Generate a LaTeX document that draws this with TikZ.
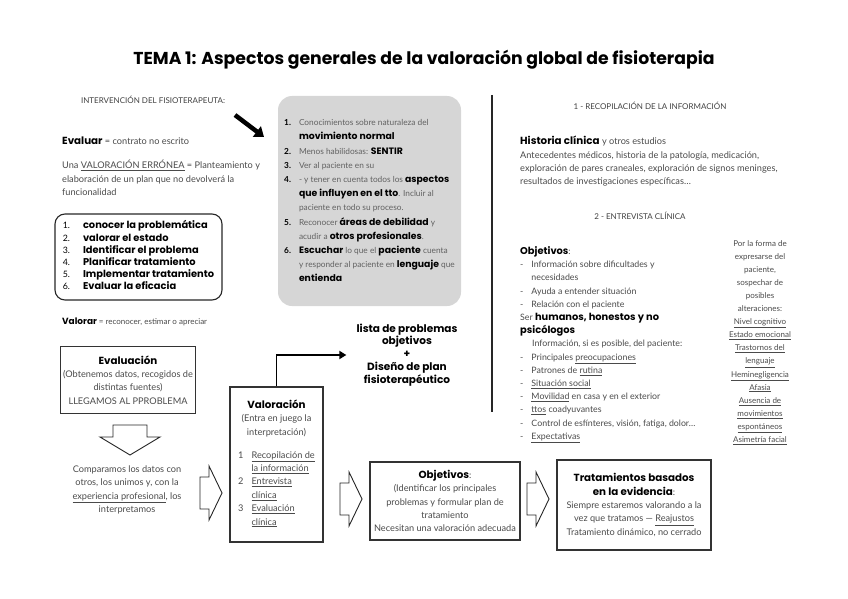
\documentclass[tikz,border=0pt]{standalone}
\usepackage{fontspec}
\setmainfont{Lato}
\newfontfamily\kwfont{Poppins}[Scale=1.12]
\usetikzlibrary{arrows.meta}
\definecolor{Texto}{HTML}{4A4A4A}
\definecolor{Gris}{HTML}{D6D6D6}
\newcommand\kw[1]{{\kwfont\bfseries\color{black}#1}}
\newcommand\cuerpo{\fontsize{9.2}{13.4}\selectfont\color{Texto}}
\newcommand\titulillo{\fontsize{8}{10}\selectfont\color{black!75}}

\begin{document}
\begin{tikzpicture}[x=1pt, y=-1pt,
    texto/.style={inner sep=0pt, font=\cuerpo},
    caja/.style={draw=black!80, line width=1.1pt, inner sep=2pt, font=\cuerpo, align=center},
    hueca/.style={draw=black!85, line width=0.9pt, fill=white, line join=miter}]

    \useasboundingbox (0,0) rectangle (848,599);

    \node[inner sep=0pt, font=\kwfont\bfseries\fontsize{15.4}{18}\selectfont] (titulo) at (424,60)
        {TEMA 1: Aspectos generales de la valoración global de fisioterapia};

    % Intervencion
    \node[inner sep=0pt, font=\titulillo] (intervencion) at (153,100) {INTERVENCIÓN DEL FISIOTERAPEUTA:};
    \coordinate (flecha-ini) at (235,115);
    \coordinate (flecha-fin) at (264,137);
    \draw[line width=4.5pt, -{Triangle[length=9pt, width=13pt]}] (flecha-ini) -- (flecha-fin);

    \node[texto, anchor=west] (evaluar) at (62,141) {\kw{Evaluar} = contrato no escrito};
    \node[texto, anchor=north west, align=left] (erronea) at (62,160)
        {Una \underline{VALORACIÓN ERRÓNEA} = Planteamiento y\\
         elaboración de un plan que no devolverá la\\
         funcionalidad};

    \node[draw=black!85, line width=1.1pt, rounded corners=10pt, minimum width=167pt, minimum height=86pt,
          inner sep=0pt, font=\fontsize{8.8}{12.2}\selectfont] (pasos) at (138.5,257)
        {\begin{tabular}{@{}l@{\hspace{13pt}}l@{}}
            1. & \kw{conocer la problemática}\\
            2. & \kw{valorar el estado}\\
            3. & \kw{Identificar el problema}\\
            4. & \kw{Planificar tratamiento}\\
            5. & \kw{Implementar tratamiento}\\
            6. & \kw{Evaluar la eficacia}
         \end{tabular}\hspace{8pt}};

    \node[texto, anchor=west, font=\fontsize{8}{10}\selectfont\color{Texto}] (valorar) at (62,322)
        {\kw{Valorar} = reconocer, estimar o apreciar};

    % Caja gris
    \node[fill=Gris, rounded corners=14pt, minimum width=183pt, minimum height=210pt, inner sep=0pt,
          font=\fontsize{8.3}{14.2}\selectfont\color{black!62}] (conocimientos) at (369.5,201)
        {\begin{tabular}{@{}l@{\hspace{8pt}}l@{}}
            \textbf{\color{black}1.} & Conocimientos sobre naturaleza del\\
             & \kw{movimiento normal}\\
            \textbf{\color{black}2.} & Menos habilidosas: \kw{SENTIR}\\
            \textbf{\color{black}3.} & Ver al paciente en su\\
            \textbf{\color{black}4.} & - y tener en cuenta todos los \kw{aspectos}\\
             & \kw{que influyen en el tto}. Incluir al\\
             & paciente en todo su proceso.\\
            \textbf{\color{black}5.} & Reconocer \kw{áreas de debilidad} y\\
             & acudir a \kw{otros profesionales}.\\
            \textbf{\color{black}6.} & \kw{Escuchar} lo que el \kw{paciente} cuenta\\
             & y responder al paciente en \kw{lenguaje} que\\
             & \kw{entienda}
         \end{tabular}};

    % Separador
    \coordinate (sep-arriba) at (492,95);
    \coordinate (sep-abajo) at (492,412);
    \draw[line width=1.2pt, black!85] (sep-arriba) -- (sep-abajo);

    % Recopilacion
    \node[inner sep=0pt, font=\titulillo] (recopilacion) at (650,106) {1 - RECOPILACIÓN DE LA INFORMACIÓN};
    \node[texto, anchor=north west, align=left] (historia) at (520,136)
        {\kw{Historia clínica} y otros estudios\\
         Antecedentes médicos, historia de la patología, medicación,\\
         exploración de pares craneales, exploración de signos meninges,\\
         resultados de investigaciones específicas…};

    % Entrevista
    \node[inner sep=0pt, font=\titulillo] (entrevista) at (640,216) {2 - ENTREVISTA CLÍNICA};
    \node[texto, anchor=north west, font=\fontsize{8.8}{13.2}\selectfont\color{Texto}] (objetivos-ent) at (520,245)
        {\begin{tabular}{@{}l@{\hspace{8pt}}l@{}}
            \multicolumn{2}{@{}l}{\kw{Objetivos}:}\\
            - & Información sobre dificultades y\\
              & necesidades\\
            - & Ayuda a entender situación\\
            - & Relación con el paciente\\
            \multicolumn{2}{@{}l}{Ser \kw{humanos, honestos y no}}\\
            \multicolumn{2}{@{}l}{\kw{psicólogos}}\\
            \multicolumn{2}{@{}l}{\hspace{12pt}Información, si es posible, del paciente:}\\
            - & Principales \underline{preocupaciones}\\
            - & Patrones de \underline{rutina}\\
            - & \underline{Situación social}\\
            - & \underline{Movilidad} en casa y en el exterior\\
            - & \underline{ttos} coadyuvantes\\
            - & Control de esfínteres, visión, fatiga, dolor…\\
            - & \underline{Expectativas}
         \end{tabular}};

    \node[texto, anchor=north, align=center, font=\fontsize{8}{13.1}\selectfont\color{Texto}] (sospechar) at (760,240)
        {Por la forma de\\ expresarse del\\ paciente,\\ sospechar de\\ posibles\\ alteraciones:\\
         \underline{Nivel cognitivo}\\ \underline{Estado emocional}\\ \underline{Trastornos del}\\
         \underline{lenguaje}\\ \underline{Heminegligencia}\\ \underline{Afasia}\\ \underline{Ausencia de}\\
         \underline{movimientos}\\ \underline{espontáneos}\\ \underline{Asimetría facial}};

    % Lista de problemas
    \node[inner sep=0pt, align=center, font=\fontsize{9.4}{12.9}\selectfont] (lista) at (407,355)
        {\kw{lista de problemas}\\ \kw{objetivos}\\ \kw{+}\\ \kw{Diseño de plan}\\ \kw{fisioterapéutico}};

    % Flujo inferior
    \node[caja, minimum width=135pt, minimum height=67pt] (evaluacion) at (128,380)
        {\kw{Evaluación}\\ (Obtenemos datos, recogidos de\\ distintas fuentes)\\ LLEGAMOS AL PPROBLEMA};

    \node[texto, align=center] (comparamos) at (127,490)
        {Comparamos los datos con\\ otros, los unimos y, con la\\ \underline{experiencia profesional}, los\\ interpretamos};

    \node[caja, minimum width=93pt, minimum height=155pt] (valoracion) at (276.5,464.5)
        {\kw{Valoración}\\ (Entra en juego la\\ interpretación)\\[11pt]
         \begin{tabular}{@{}l@{\hspace{8pt}}l@{}}
            1 & \underline{Recopilación de}\\
              & \underline{la información}\\
            2 & \underline{Entrevista}\\
              & \underline{clínica}\\
            3 & \underline{Evaluación}\\
              & \underline{clínica}
         \end{tabular}};

    \node[caja, minimum width=150pt, minimum height=78pt] (objetivos) at (445,501)
        {\kw{Objetivos}:\\ (Identificar los principales\\ problemas y formular plan de\\ tratamiento\\ Necesitan una valoración adecuada};

    \node[caja, minimum width=154pt, minimum height=90pt] (tratamientos) at (634,505)
        {\kw{Tratamientos basados}\\ \kw{en la evidencia}:\\ Siempre estaremos valorando a la\\
         vez que tratamos — \underline{Reajustos}\\ Tratamiento dinámico, no cerrado};

    \draw[line width=1.8pt, -{Triangle[length=7pt, width=8pt]}, shorten >=10pt]
        (valoracion.north) |- (lista.west);

    % Flechas huecas
    \draw[hueca] (113,425) -- (147,425) -- (147,437) -- (160,437) -- (130,455) -- (100,437) -- (113,437) -- cycle;
    \foreach \x/\y in {200/493, 340/499, 527/499} {
        \draw[hueca] (\x,\y) ++(0,-16) -- ++(9,0) -- ++(0,-11) -- ++(13,27) -- ++(-13,27) -- ++(0,-11) -- ++(-9,0) -- cycle;
    }

\end{tikzpicture}
\end{document}
